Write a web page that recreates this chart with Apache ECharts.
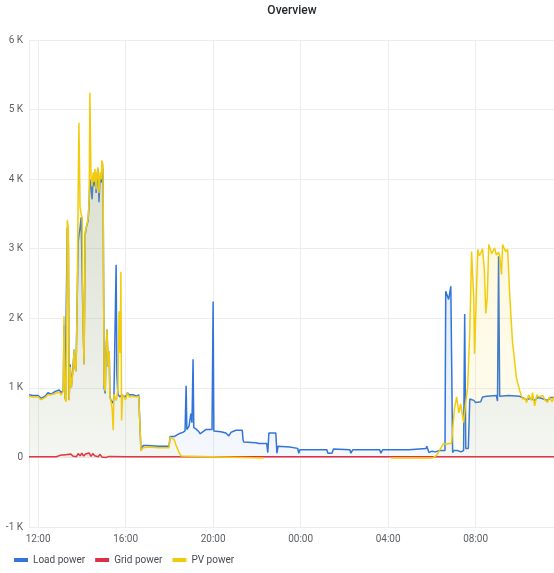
<!DOCTYPE html>
<html>
<head>
<meta charset="utf-8">
<title>Overview</title>
<script src="https://cdn.jsdelivr.net/npm/echarts@6/dist/echarts.min.js"></script>
<style>
  html, body { margin: 0; padding: 0; background: #fff; }
  #chart { width: 554px; height: 573px; }
</style>
</head>
<body>
<div id="chart"></div>
<script>
// series names, shown in the legend
var seriesNames = ['Load power', 'Grid power', 'PV power'];
var seriesColors = ['#3274d9', '#e02f44', '#f2cc0c'];

// y ticks (W)
var yTicks = [-1000, 0, 1000, 2000, 3000, 4000, 5000, 6000];

// [time of day, watts], 11:35 -> 11:35 next day
var loadPower = [
  ['11:35',900],['11:45',890],['12:00',890],['12:08',850],['12:13',840],['12:19',880],['12:27',930],['12:36',910],['12:47',950],['12:58',970],
  ['13:03',930],['13:09',960],['13:11',1900],['13:14',840],['13:17',820],['13:20',3300],['13:23',3100],['13:25',830],['13:28',1340],['13:31',1000],
  ['13:35',1250],['13:39',1550],['13:41',1300],['13:44',1240],['13:47',2200],['13:50',3100],['13:52',3200],['13:55',3300],['13:58',3450],['14:01',3450],
  ['14:03',2000],['14:06',1340],['14:09',3200],['14:12',3300],['14:17',3400],['14:20',3650],['14:22',4000],['14:25',3900],['14:28',3710],['14:31',4000],
  ['14:33',3900],['14:36',4100],['14:39',3800],['14:42',4050],['14:44',4150],['14:47',3670],['14:50',4050],['14:53',3950],['14:55',4000],['14:58',4150],
  ['15:01',1000],['15:04',920],['15:06',1500],['15:09',1840],['15:12',1300],['15:15',1530],['15:17',870],['15:20',820],['15:23',800],['15:26',780],
  ['15:28',900],['15:31',880],['15:34',2770],['15:36',1200],['15:39',900],['15:42',900],['15:45',870],['15:49',900],['15:52',920],['16:00',870],
  ['16:05',930],['16:10',900],['16:15',880],['16:20',900],['16:25',890],['16:30',880],['16:36',900],['16:39',900],['16:42',100],['16:48',170],
  ['16:53',160],['17:00',170],['17:30',160],['17:59',160],['18:02',300],['18:07',310],['18:13',300],['18:18',300],['18:26',340],['18:37',360],
  ['18:43',380],['18:46',1030],['18:48',400],['18:54',450],['18:59',630],['19:02',500],['19:05',1410],['19:07',430],['19:13',410],['19:21',370],
  ['19:24',340],['19:27',350],['19:40',400],['19:57',400],['20:00',2240],['20:02',380],['20:21',370],['20:35',350],['20:43',310],['20:49',360],
  ['20:57',380],['21:03',390],['21:20',390],['21:22',260],['21:24',220],['21:57',210],['22:06',200],['22:27',200],['22:30',70],['22:33',350],
  ['22:52',350],['22:55',60],['22:58',160],['23:30',150],['23:52',130],['23:55',60],['23:58',110],['01:12',110],['01:15',60],['01:26',60],
  ['01:30',120],['02:15',110],['02:18',60],['02:23',110],['03:37',110],['03:40',60],['03:45',110],['04:57',110],['05:00',130],['05:44',130],
  ['05:46',160],['05:50',160],['05:52',70],['06:00',90],['06:10',80],['06:20',100],['06:36',100],['06:38',2390],['06:46',2270],['06:52',2460],
  ['06:57',70],['07:00',100],['07:10',100],['07:20',80],['07:27',100],['07:30',2060],['07:33',130],['07:40',130],['07:44',840],['07:55',820],
  ['08:00',790],['08:14',800],['08:19',870],['08:30',880],['08:57',890],['09:00',810],['09:03',2890],['09:06',880],['09:30',890],['10:00',880],
  ['10:09',860],['10:20',830],['10:30',850],['10:42',820],['10:50',860],['11:00',850],['11:17',820],['11:26',860],['11:35',860]
];

var gridPower = [
  ['11:35',8],['12:40',8],['12:45',25],['12:50',10],['13:00',30],['13:05',5],['13:15',40],['13:20',15],['13:30',50],['13:35',20],
  ['13:40',45],['13:45',10],['13:50',55],['13:55',25],['14:00',60],['14:05',20],['14:10',50],['14:15',30],['14:20',65],['14:25',15],
  ['14:30',55],['14:35',25],['14:40',40],['14:45',10],['14:50',45],['14:55',5],['15:00',30],['15:05',0],['15:15',15],['15:20',0],
  ['16:00',8],['18:40',8],['18:45',30],['18:48',8],['22:20',8],['11:35',8]
];

var pvPower = [
  ['11:35',880],['11:45',870],['12:00',870],['12:08',830],['12:13',820],['12:19',860],['12:27',900],['12:36',900],['12:47',920],['12:58',940],
  ['13:03',900],['13:09',950],['13:11',2030],['13:14',830],['13:17',800],['13:20',3410],['13:23',3300],['13:25',820],['13:28',1300],['13:31',1000],
  ['13:35',1200],['13:39',1550],['13:41',1300],['13:44',1240],['13:47',2200],['13:50',3900],['13:52',4810],['13:55',3600],['13:58',3500],['14:01',3450],
  ['14:03',2000],['14:06',1340],['14:09',3240],['14:12',3300],['14:17',3430],['14:20',3700],['14:22',5240],['14:25',4060],['14:28',3900],['14:31',4100],
  ['14:33',3960],['14:36',4150],['14:39',3850],['14:42',4100],['14:44',4170],['14:47',3800],['14:50',4100],['14:53',4000],['14:55',4270],['14:58',4200],
  ['15:01',1050],['15:04',950],['15:06',1500],['15:09',1840],['15:12',1300],['15:15',1530],['15:17',860],['15:20',800],['15:23',700],['15:26',390],
  ['15:28',910],['15:31',900],['15:34',820],['15:36',850],['15:39',1000],['15:42',2100],['15:45',1500],['15:47',2670],['15:49',530],['15:52',900],
  ['16:00',830],['16:05',930],['16:10',870],['16:15',850],['16:20',880],['16:25',860],['16:30',870],['16:36',880],['16:39',880],['16:42',100],
  ['16:48',140],['16:53',130],['17:00',150],['17:30',140],['17:59',140],['18:02',290],['18:07',300],['18:13',260],['18:18',180],['18:26',80],
  ['18:32',20],['18:37',-8],['22:19',-8],['22:20',null],['04:06',null],['04:07',-8],['06:02',-8],['06:05',0],['06:13',30],['06:24',130],
  ['06:32',200],['06:38',190],['06:46',200],['06:54',200],['06:57',400],['07:02',700],['07:08',870],['07:14',640],['07:19',770],['07:24',600],
  ['07:27',500],['07:33',800],['07:38',1000],['07:44',1810],['07:49',2960],['07:52',2600],['07:55',2290],['07:57',1490],['08:00',2000],['08:03',2530],
  ['08:06',2990],['08:10',2900],['08:14',2930],['08:19',3000],['08:24',2700],['08:28',2070],['08:32',2300],['08:36',3060],['08:38',3030],['08:44',2930],
  ['08:52',3010],['08:57',2910],['09:03',2950],['09:06',2900],['09:11',2630],['09:14',3060],['09:22',2960],['09:28',2990],['09:33',2390],['09:41',1670],
  ['09:52',1140],['10:01',960],['10:09',840],['10:15',850],['10:20',790],['10:25',900],['10:28',880],['10:33',820],['10:36',930],['10:42',740],
  ['10:48',900],['10:53',870],['11:04',890],['11:10',830],['11:17',790],['11:22',870],['11:26',890],['11:30',800],['11:35',880]
];

// turn "HH:MM" into timestamps, rolling over to the next day when the clock goes back
function toSeries(pairs) {
  var day = 0, prev = -1, out = [];
  pairs.forEach(function (p) {
    var hm = p[0].split(':'), mins = +hm[0] * 60 + +hm[1];
    if (mins < prev) day++;
    prev = mins;
    out.push([new Date(2023, 5, 10 + day, +hm[0], +hm[1]).getTime(), p[1]]);
  });
  return out;
}

function fade(hex, a) {
  var r = parseInt(hex.substr(1, 2), 16), g = parseInt(hex.substr(3, 2), 16), b = parseInt(hex.substr(5, 2), 16);
  return 'rgba(' + r + ',' + g + ',' + b + ',' + a + ')';
}

function pad(n) { return n < 10 ? '0' + n : '' + n; }

var chart = echarts.init(document.getElementById('chart'), null, { renderer: 'canvas' });

var allData = [loadPower, gridPower, pvPower];
var series = seriesNames.map(function (name, i) {
  return {
    name: name,
    type: 'line',
    data: toSeries(allData[i]),
    showSymbol: false,
    symbol: 'none',
    connectNulls: false,
    lineStyle: { width: 1.5, color: seriesColors[i] },
    itemStyle: { color: seriesColors[i] },
    areaStyle: {
      color: new echarts.graphic.LinearGradient(0, 0, 0, 1, [
        { offset: 0, color: fade(seriesColors[i], 0.28) },
        { offset: 1, color: fade(seriesColors[i], 0.07) }
      ])
    },
    z: 2 + i
  };
});

var option = {
  animation: false,
  backgroundColor: '#ffffff',
  textStyle: { fontFamily: 'Roboto' },
  title: {
    text: 'Overview',
    left: 287,
    textAlign: 'center',
    top: 0,
    textStyle: { fontFamily: 'Roboto', fontSize: 12, fontWeight: 500, color: '#24292e' }
  },
  legend: {
    data: seriesNames,
    left: 9,
    top: 550,
    icon: 'rect',
    itemWidth: 14,
    itemHeight: 4,
    itemGap: 10,
    textStyle: { fontFamily: 'Roboto', fontSize: 10, color: '#464c54' }
  },
  grid: { left: 29, right: 0, top: 40, bottom: 46, containLabel: false },
  xAxis: {
    type: 'time',
    min: new Date(2023, 5, 10, 11, 35).getTime(),
    max: new Date(2023, 5, 11, 11, 35).getTime(),
    splitNumber: 6,
    minInterval: 4 * 3600 * 1000,
    maxInterval: 4 * 3600 * 1000,
    axisLine: { show: false },
    axisTick: { show: false },
    axisLabel: {
      color: '#5b5f64',
      fontFamily: 'Roboto',
      fontSize: 10,
      margin: 7,
      showMinLabel: false,
      showMaxLabel: false,
      alignMinLabel: 'center',
      alignMaxLabel: 'center',
      formatter: function (v) {
        var d = new Date(v);
        return pad(d.getHours()) + ':' + pad(d.getMinutes());
      }
    },
    splitLine: { show: true, lineStyle: { color: '#ededed', width: 1 } }
  },
  yAxis: {
    type: 'value',
    min: yTicks[0],
    max: yTicks[yTicks.length - 1],
    interval: 1000,
    axisLine: { show: false },
    axisTick: { show: false },
    axisLabel: {
      color: '#5b5f64',
      fontFamily: 'Roboto',
      fontSize: 10,
      margin: 6,
      formatter: function (v) { return v === 0 ? '0' : (v / 1000) + ' K'; }
    },
    splitLine: { show: true, lineStyle: { color: '#ededed', width: 1 } }
  },
  series: series
};

chart.setOption(option);
</script>
</body>
</html>
